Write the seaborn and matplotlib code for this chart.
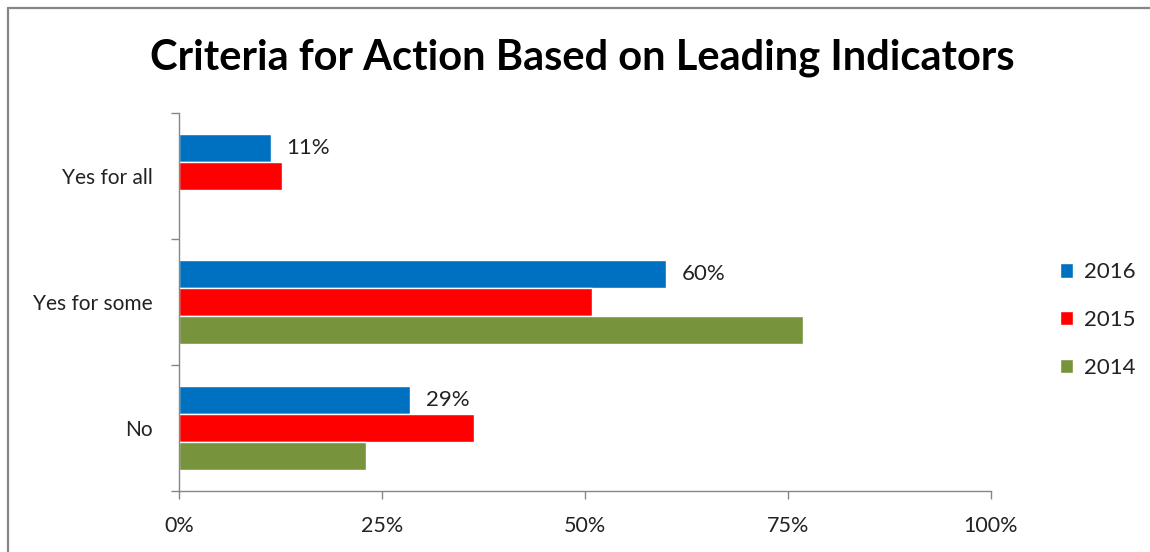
import matplotlib

matplotlib.use("Agg")
import matplotlib.pyplot as plt
import pandas as pd
import seaborn as sns
from matplotlib.lines import Line2D
from matplotlib.ticker import FixedLocator, PercentFormatter

# Data
categories = ["Yes for all", "Yes for some", "No"]
years = ["2016", "2015", "2014"]
values_2016 = [11.3, 60.0, 28.5]
values_2015 = [12.7, 50.9, 36.3]
values_2014 = [None, 76.8, 23.0]
labels_2016 = ["11%", "60%", "29%"]

colors = {"2016": "#0070C0", "2015": "#FF0000", "2014": "#77933C"}

sns.set_theme(style="white")
plt.rcParams["font.family"] = ["Lato", "DejaVu Sans"]

FS = 16


def build_frame():
    rows = []
    for year, vals in zip(years, [values_2016, values_2015, values_2014]):
        for cat, v in zip(categories, vals):
            rows.append({"category": cat, "year": year, "value": v})
    return pd.DataFrame(rows)


def main():
    df = build_frame()

    fig = plt.figure(figsize=(11.5, 5.52), dpi=100)
    ax = fig.add_axes([179 / 1150, 1 - 491 / 552, (991 - 179) / 1150, (491 - 113) / 552])

    sns.barplot(
        data=df,
        x="value",
        y="category",
        hue="year",
        order=categories,
        hue_order=years,
        palette=colors,
        orient="h",
        width=0.667,
        gap=0,
        saturation=1,
        ax=ax,
        legend=True,
    )

    ax.set_xlim(0, 100)
    ax.set_ylim(2.5, -0.5)
    ax.set_xlabel("")
    ax.set_ylabel("")

    # x axis
    ax.set_xticks([0, 25, 50, 75, 100])
    ax.xaxis.set_major_formatter(PercentFormatter(decimals=0))
    ax.tick_params(axis="x", direction="out", length=6, width=1, color="#868686",
                   labelsize=15.5, pad=12, bottom=True, labelcolor="#222222")

    # y axis: labels at centres, ticks at boundaries
    ax.tick_params(axis="y", which="major", length=0, labelsize=15, pad=19,
                   left=True, labelcolor="#222222")
    ax.yaxis.set_minor_locator(FixedLocator([-0.5, 0.5, 1.5, 2.5]))
    ax.tick_params(axis="y", which="minor", direction="out", length=6, width=1,
                   color="#868686", left=True)

    for side in ["top", "right"]:
        ax.spines[side].set_visible(False)
    for side in ["left", "bottom"]:
        ax.spines[side].set_color("#868686")
        ax.spines[side].set_linewidth(1)

    # data labels on 2016 bars
    blue = ax.containers[0]
    ax.bar_label(blue, labels=labels_2016, padding=11, fontsize=FS, color="#222222")

    # legend
    handles, labels = ax.get_legend_handles_labels()
    ax.legend(
        handles,
        labels,
        loc="center left",
        bbox_to_anchor=(1.06, 0.452),
        frameon=False,
        fontsize=FS,
        handlelength=0.6,
        handleheight=0.6,
        handletextpad=0.5,
        labelspacing=1.25,
        labelcolor="#222222",
    )

    fig.text(0.506, 0.895, "Criteria for Action Based on Leading Indicators",
             ha="center", va="center", fontsize=30, fontweight="bold", color="black")

    # chart border (only top and left edges are visible in the crop)
    x0, y0 = 7.5 / 1150, 1 - 8 / 552
    fig.add_artist(Line2D([x0, 1.0], [y0, y0], transform=fig.transFigure,
                          color="#868686", lw=1.6))
    fig.add_artist(Line2D([x0, x0], [0.0, y0], transform=fig.transFigure,
                          color="#868686", lw=1.6))

    fig.savefig("out.png", dpi=100, facecolor="white")
    plt.close(fig)


if __name__ == "__main__":
    main()
